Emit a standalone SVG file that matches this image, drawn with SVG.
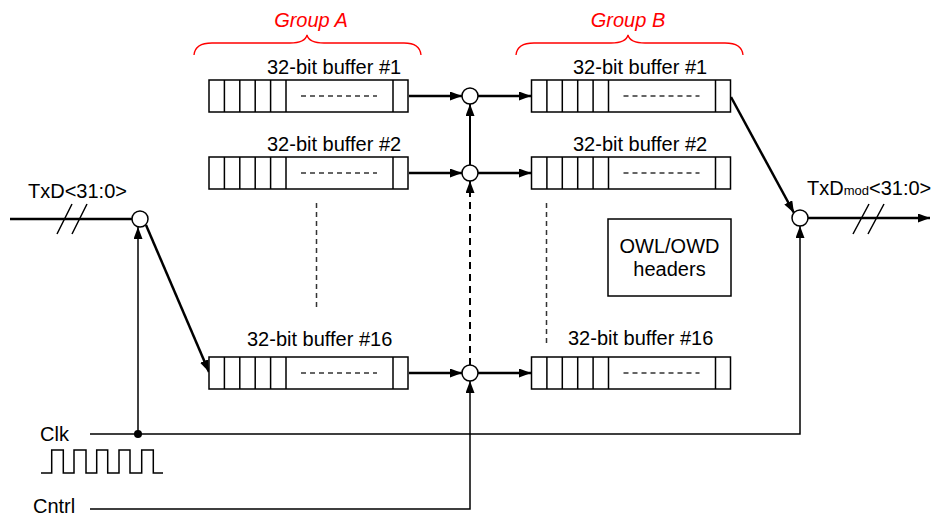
<svg xmlns="http://www.w3.org/2000/svg" xmlns:xlink="http://www.w3.org/1999/xlink" width="932" height="518" viewBox="0 0 932 518">
<style>
text{font-family:"Liberation Sans",Arial,sans-serif;font-size:20px;fill:#000}
.grp{fill:#FF0000;font-style:italic}
.thick{stroke:#000;stroke-width:2.5;fill:none}
.mid{stroke:#000;stroke-width:2;fill:none}
.thin{stroke:#000;stroke-width:1.5;fill:none}
.brace{stroke:#FF0000;stroke-width:1.3;fill:none}
.node{fill:#fff;stroke:#000;stroke-width:1.5}
.dash{stroke:#333;stroke-width:1.5;stroke-dasharray:5 4;fill:none}
</style>
<defs>
<marker id="ah" markerUnits="userSpaceOnUse" markerWidth="12" markerHeight="9" refX="12" refY="4.5" orient="auto">
<path d="M0,0 L12,4.5 L0,9 z" fill="#000"/>
</marker>
<g id="buf">
<rect x="0" y="0" width="199" height="32" fill="#fff" stroke="#000" stroke-width="1.5"/>
<path d="M15.4,0V32M30.8,0V32M46.2,0V32M61.6,0V32M77,0V32M184,0V32" stroke="#000" stroke-width="1.5"/>
<path d="M92,16H168" stroke="#333" stroke-width="1.3" stroke-dasharray="5 4"/>
</g>
</defs>

<g id="groupA-label">
<path class="brace" d="M194,55 Q195,43 212,43 L290,43 Q305,43 307,35 Q309,43 324,43 L404,43 Q420,43 421,55"/>
<text class="grp" x="311" y="27" text-anchor="middle">Group A</text>
</g>
<g id="groupB-label">
<path class="brace" d="M516,55 Q517,43 534,43 L611,43 Q626,43 628,35 Q630,43 645,43 L725,43 Q742,43 743,55"/>
<text class="grp" x="628" y="27" text-anchor="middle">Group B</text>
</g>

<g id="connectors">
<path class="thick" d="M10,219 H132"/>
<path class="thin" d="M57,234 L72,204 M72,234 L87,204"/>
<path class="thick" d="M146,225 L209,372" marker-end="url(#ah)"/>
<path class="thin" d="M138,434 V227" marker-end="url(#ah)"/>
<path class="thick" d="M409,96 H462" marker-end="url(#ah)"/>
<path class="thick" d="M409,173 H462" marker-end="url(#ah)"/>
<path class="thick" d="M409,373 H462" marker-end="url(#ah)"/>
<path class="thick" d="M478,96 H531" marker-end="url(#ah)"/>
<path class="thick" d="M478,173 H531" marker-end="url(#ah)"/>
<path class="thick" d="M478,373 H531" marker-end="url(#ah)"/>
<path class="mid" d="M470,165 V104" marker-end="url(#ah)"/>
<path class="mid" d="M470,365 V181" stroke-dasharray="7 5" marker-end="url(#ah)"/>
<path class="thin" d="M90,509 H470 V381" marker-end="url(#ah)"/>
<path class="thin" d="M90,434 H800 V226" marker-end="url(#ah)"/>
<circle cx="138" cy="434" r="4" fill="#000"/>
<path class="thick" d="M731,97 L794,213" marker-end="url(#ah)"/>
<path class="thick" d="M808,218 H930" marker-end="url(#ah)"/>
<path class="thin" d="M853,234 L869,204 M868,234 L884,204"/>
<path class="dash" d="M316.5,203 V307"/>
<path class="dash" d="M546.5,203 V343"/>
<path class="thin" d="M41,473 H51.7 V450 H63.3 V473 H74 V450 H86 V473 H96.7 V450 H107.7 V473 H119 V450 H130 V473 H141.7 V450 H153.3 V473 H163"/>
</g>

<g id="in-mux"><circle class="node" cx="140" cy="219" r="8"/></g>
<g id="mux1"><circle class="node" cx="470" cy="96" r="8"/></g>
<g id="mux2"><circle class="node" cx="470" cy="173" r="8"/></g>
<g id="mux16"><circle class="node" cx="470" cy="373" r="8"/></g>
<g id="out-mux"><circle class="node" cx="800" cy="218" r="8"/></g>

<g id="bufA1"><use xlink:href="#buf" x="209" y="80"/><text x="267" y="74">32-bit buffer #1</text></g>
<g id="bufA2"><use xlink:href="#buf" x="209" y="157"/><text x="267" y="151">32-bit buffer #2</text></g>
<g id="bufA16"><use xlink:href="#buf" x="209" y="357"/><text x="247" y="346">32-bit buffer #16</text></g>
<g id="bufB1"><use xlink:href="#buf" x="531.5" y="80"/><text x="573" y="74">32-bit buffer #1</text></g>
<g id="bufB2"><use xlink:href="#buf" x="531.5" y="157"/><text x="573" y="151">32-bit buffer #2</text></g>
<g id="bufB16"><use xlink:href="#buf" x="531.5" y="357"/><text x="568" y="345">32-bit buffer #16</text></g>

<g id="headers">
<rect x="608" y="219" width="123" height="77" fill="#fff" stroke="#000" stroke-width="1.5"/>
<text x="669.5" y="253" text-anchor="middle">OWL/OWD</text>
<text x="669.5" y="276" text-anchor="middle">headers</text>
</g>

<g id="labels">
<text x="28" y="198">TxD&lt;31:0&gt;</text>
<text x="807" y="195">TxD<tspan font-size="13">mod</tspan>&lt;31:0&gt;</text>
<text x="40" y="441">Clk</text>
<text x="33" y="513">Cntrl</text>
</g>
</svg>
